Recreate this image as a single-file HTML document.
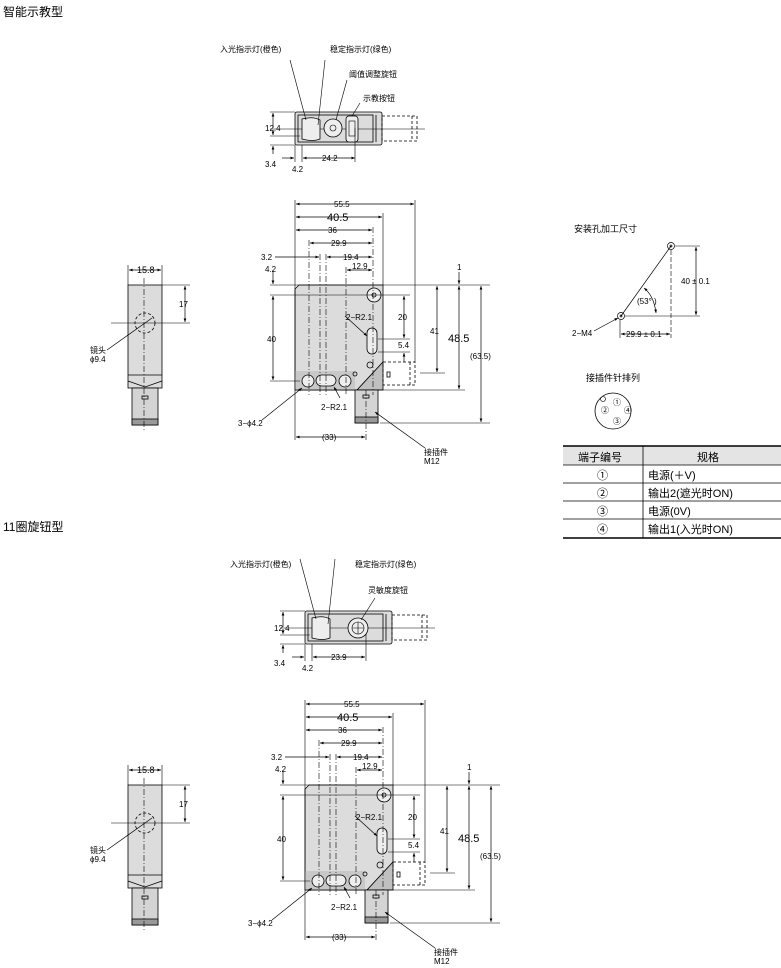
<!DOCTYPE html>
<html><head><meta charset="utf-8"><style>
html,body{margin:0;padding:0;background:#fff}
svg{display:block}
text{font-family:"Liberation Sans","Noto Sans CJK SC",sans-serif;fill:#000}
.s{font-size:8px}.m{font-size:9px}.l{font-size:11px}.t{font-size:12px}
</style></head><body>
<svg width="781" height="968" viewBox="0 0 781 968" xmlns="http://www.w3.org/2000/svg">
<defs>
<marker id="a" markerWidth="6" markerHeight="6" refX="5" refY="3" orient="auto-start-reverse"><path d="M0,1 L5,3 L0,5 Z" fill="#000"/></marker>
<g id="front" stroke="#000" fill="none" stroke-width="0.8">
  <path d="M295,289 L299,285 L383,285 L383,362 L357,390 L295,390 Z" fill="#dcdcdc"/>
  <rect x="295" y="371" width="60" height="19" fill="#c8c8c8" stroke="none"/>
  <path d="M357,390 L383,362 L383,390 Z" fill="#c0c0c0"/>
  <line x1="295" y1="390" x2="383" y2="390"/>
  <circle cx="374" cy="295" r="7" fill="#eee"/><circle cx="374" cy="295" r="2"/>
  <rect x="367" y="328" width="10" height="26" rx="5" fill="#eee"/>
  <circle cx="370" cy="365" r="3"/>
  <circle cx="308" cy="381" r="6" fill="#eee"/>
  <rect x="316" y="375" width="20" height="11" rx="5.5" fill="#eee"/>
  <circle cx="345" cy="381" r="6" fill="#eee"/>
  <circle cx="355" cy="374" r="2"/>
  <rect x="355" y="390" width="23" height="33" fill="#d4d4d4"/>
  <rect x="355" y="417" width="23" height="6" fill="#999"/>
  <rect x="363" y="395" width="6" height="3"/>
  <rect x="383" y="362" width="32" height="23" stroke-dasharray="3,2"/>
  <line x1="410" y1="362" x2="410" y2="385" stroke-dasharray="3,2"/>
  <rect x="387" y="372" width="3" height="5"/>
  <g stroke-dasharray="6,2,1,2" stroke-width="0.6">
    <line x1="309" y1="240" x2="309" y2="395"/>
    <line x1="320" y1="254" x2="320" y2="395"/>
    <line x1="326" y1="254" x2="326" y2="395"/>
    <line x1="346" y1="267" x2="346" y2="395"/>
    <line x1="373" y1="227" x2="373" y2="395"/>
    <line x1="366" y1="390" x2="366" y2="440"/>
  </g>
  <g stroke-width="0.6">
  <line x1="295" y1="200" x2="295" y2="440"/>
  <line x1="383" y1="213" x2="383" y2="285"/>
  <line x1="415" y1="200" x2="415" y2="362"/>
  <line x1="270" y1="285" x2="490" y2="285"/>
  <line x1="270" y1="295" x2="410" y2="295"/>
  <line x1="270" y1="381" x2="300" y2="381"/>
  <line x1="378" y1="339" x2="410" y2="339"/>
  <line x1="378" y1="352" x2="410" y2="352"/>
  <line x1="420" y1="373" x2="445" y2="373"/>
  <line x1="383" y1="390" x2="465" y2="390"/>
  <line x1="380" y1="423" x2="490" y2="423"/>
  </g>
  <g stroke-width="0.7" marker-start="url(#a)" marker-end="url(#a)">
  <line x1="296" y1="204" x2="414" y2="204"/>
  <line x1="296" y1="217" x2="382" y2="217"/>
  <line x1="296" y1="230" x2="372" y2="230"/>
  <line x1="310" y1="243" x2="372" y2="243"/>
  <line x1="327" y1="257" x2="372" y2="257"/>
  <line x1="347" y1="270" x2="372" y2="270"/>
  <line x1="273" y1="296" x2="273" y2="380"/>
  <line x1="404" y1="296" x2="404" y2="338"/>
  <line x1="437" y1="286" x2="437" y2="372"/>
  <line x1="459" y1="286" x2="459" y2="389"/>
  <line x1="481" y1="286" x2="481" y2="422"/>
  <line x1="296" y1="437" x2="365" y2="437"/>
  </g>
  <line x1="275" y1="257" x2="319" y2="257" stroke-width="0.7" marker-end="url(#a)"/>
  <line x1="273" y1="270" x2="273" y2="284" stroke-width="0.7" marker-end="url(#a)"/>
  <line x1="459" y1="272" x2="459" y2="284" stroke-width="0.7" marker-end="url(#a)"/>
  <line x1="404" y1="362" x2="404" y2="353" stroke-width="0.7" marker-end="url(#a)"/>
  <line x1="345" y1="316" x2="367" y2="336" stroke-width="0.7" marker-end="url(#a)"/>
  <line x1="340" y1="398" x2="334" y2="387" stroke-width="0.7" marker-end="url(#a)"/>
  <line x1="262" y1="420" x2="302" y2="388" stroke-width="0.7" marker-end="url(#a)"/>
  <line x1="425" y1="448" x2="375" y2="412" stroke-width="0.7" marker-end="url(#a)"/>
</g>
<g id="side" stroke="#000" fill="none" stroke-width="0.8">
  <rect x="128" y="285" width="34" height="103" fill="#dcdcdc"/>
  <path d="M128,375 L162,375 M128,381 L145,387 L162,381"/>
  <rect x="132" y="388" width="26" height="37" fill="#d4d4d4"/>
  <rect x="132" y="419" width="26" height="6" fill="#999"/>
  <rect x="142" y="396" width="6" height="3"/>
  <circle cx="145" cy="323" r="10" stroke-dasharray="3,2"/>
  <line x1="111" y1="323" x2="190" y2="323" stroke-width="0.6"/>
  <line x1="144" y1="278" x2="144" y2="430" stroke-width="0.6" stroke-dasharray="6,2,1,2"/>
  <line x1="128" y1="265" x2="128" y2="285" stroke-width="0.6"/>
  <line x1="162" y1="265" x2="162" y2="285" stroke-width="0.6"/>
  <line x1="162" y1="285" x2="190" y2="285" stroke-width="0.6"/>
  <line x1="129" y1="270" x2="161" y2="270" stroke-width="0.7" marker-start="url(#a)" marker-end="url(#a)"/>
  <line x1="185" y1="286" x2="185" y2="322" stroke-width="0.7" marker-start="url(#a)" marker-end="url(#a)"/>
  <line x1="107" y1="350" x2="152" y2="318" stroke-width="0.7"/>
</g>
<g id="topv" stroke="#000" fill="none" stroke-width="0.8">
  <rect x="295" y="112" width="87" height="33" rx="2" fill="#dcdcdc"/>
  <rect x="298" y="115" width="75" height="27" fill="none"/>
  <line x1="376" y1="115" x2="376" y2="142"/>
  <rect x="382" y="116" width="35" height="25" stroke-dasharray="3,2"/>
  <line x1="412" y1="116" x2="412" y2="141" stroke-dasharray="3,2"/>
  <line x1="270" y1="129" x2="425" y2="129" stroke-width="0.6"/>
  <path d="M302,119 Q313,116 320,120 L320,139 Q313,142 302,139 Z" fill="#eee"/>
  <line x1="270" y1="112" x2="295" y2="112" stroke-width="0.6"/>
  <line x1="270" y1="136" x2="300" y2="136" stroke-width="0.6"/>
  <line x1="270" y1="145" x2="295" y2="145" stroke-width="0.6"/>
  <line x1="273" y1="113" x2="273" y2="128" stroke-width="0.7" marker-start="url(#a)"/>
  <line x1="273" y1="130" x2="273" y2="135" stroke-width="0.7" marker-end="url(#a)"/>
  <line x1="273" y1="154" x2="273" y2="146" stroke-width="0.7" marker-end="url(#a)"/>
  <line x1="295" y1="145" x2="295" y2="162" stroke-width="0.6"/>
  <line x1="302" y1="145" x2="302" y2="162" stroke-width="0.6"/>
  <line x1="282" y1="158" x2="294" y2="158" stroke-width="0.7" marker-end="url(#a)"/>
  <line x1="303" y1="158" x2="355" y2="158" stroke-width="0.7" marker-start="url(#a)" marker-end="url(#a)"/>
  <line x1="290" y1="60" x2="306" y2="120" stroke-width="0.6"/>
  <line x1="325" y1="60" x2="318" y2="125" stroke-width="0.6"/>
</g>
</defs>

<text x="3" y="16" class="t">智能示教型</text>
<text x="3" y="531" class="t">11圈旋钮型</text>

<use href="#topv"/>
<circle cx="333" cy="128" r="9" fill="#eee" stroke="#000" stroke-width="0.8"/>
<circle cx="333" cy="128" r="3" fill="none" stroke="#000" stroke-width="0.6"/>
<rect x="346" y="116" width="12" height="26" rx="3" fill="#eee" stroke="#000" stroke-width="0.8"/>
<rect x="349" y="121" width="6" height="15" fill="none" stroke="#000" stroke-width="0.6"/>
<line x1="355" y1="162" x2="355" y2="128" stroke="#000" stroke-width="0.6"/>
<line x1="347" y1="80" x2="336" y2="120" stroke="#000" stroke-width="0.6"/>
<line x1="360" y1="103" x2="352" y2="116" stroke="#000" stroke-width="0.6"/>
<text x="220" y="52" class="s">入光指示灯(橙色)</text>
<text x="330" y="52" class="s">稳定指示灯(绿色)</text>
<text x="349" y="77" class="s">阈值调整旋钮</text>
<text x="363" y="101" class="s">示教按钮</text>
<text x="265" y="131" class="s">12.4</text>
<text x="265" y="167" class="s">3.4</text>
<text x="292" y="172" class="s">4.2</text>
<text x="322" y="161" class="s">24.2</text>

<use href="#front"/>
<text x="334" y="207" class="s">55.5</text>
<text x="327" y="221" class="l">40.5</text>
<text x="328" y="233" class="s">36</text>
<text x="331" y="246" class="s">29.9</text>
<text x="261" y="260" class="s">3.2</text>
<text x="343" y="260" class="s">19.4</text>
<text x="352" y="269" class="s">12.9</text>
<text x="265" y="272" class="s">4.2</text>
<text x="457" y="270" class="s">1</text>
<text x="267" y="342" class="s">40</text>
<text x="346" y="320" class="s">2−R2.1</text>
<text x="398" y="320" class="s">20</text>
<text x="398" y="348" class="s">5.4</text>
<text x="430" y="334" class="s">41</text>
<text x="448" y="342" class="l">48.5</text>
<text x="470" y="359" class="s">(63.5)</text>
<text x="321" y="410" class="s">2−R2.1</text>
<text x="238" y="426" class="s">3−ϕ4.2</text>
<text x="322" y="440" class="s">(33)</text>
<text x="424" y="455" class="s">接插件</text>
<text x="424" y="464" class="s">M12</text>

<use href="#side"/>
<text x="137" y="273" class="m">15.8</text>
<text x="179" y="307" class="s">17</text>
<text x="90" y="353" class="s">镜头</text>
<text x="90" y="362" class="s">ϕ9.4</text>

<use href="#topv" transform="translate(10,499)"/>
<circle cx="358" cy="628" r="10" fill="#eee" stroke="#000" stroke-width="0.8"/>
<circle cx="358" cy="628" r="6" fill="none" stroke="#000" stroke-width="0.6"/>
<path d="M352,628 H364 M358,622 V634" stroke="#000" stroke-width="0.6"/>
<line x1="366" y1="661" x2="366" y2="634" stroke="#000" stroke-width="0.6"/>
<line x1="375" y1="598" x2="361" y2="620" stroke="#000" stroke-width="0.6"/>
<text x="230" y="567" class="s">入光指示灯(橙色)</text>
<text x="355" y="567" class="s">稳定指示灯(绿色)</text>
<text x="368" y="593" class="s">灵敏度旋钮</text>
<text x="274" y="631" class="s">12.4</text>
<text x="274" y="666" class="s">3.4</text>
<text x="302" y="671" class="s">4.2</text>
<text x="331" y="660" class="s">23.9</text>

<use href="#front" transform="translate(10,500)"/>
<text x="344" y="707" class="s">55.5</text>
<text x="337" y="721" class="l">40.5</text>
<text x="338" y="733" class="s">36</text>
<text x="341" y="746" class="s">29.9</text>
<text x="271" y="760" class="s">3.2</text>
<text x="353" y="760" class="s">19.4</text>
<text x="362" y="769" class="s">12.9</text>
<text x="275" y="772" class="s">4.2</text>
<text x="467" y="770" class="s">1</text>
<text x="277" y="842" class="s">40</text>
<text x="356" y="820" class="s">2−R2.1</text>
<text x="408" y="820" class="s">20</text>
<text x="408" y="848" class="s">5.4</text>
<text x="440" y="834" class="s">41</text>
<text x="458" y="842" class="l">48.5</text>
<text x="480" y="859" class="s">(63.5)</text>
<text x="331" y="910" class="s">2−R2.1</text>
<text x="248" y="926" class="s">3−ϕ4.2</text>
<text x="332" y="940" class="s">(33)</text>
<text x="434" y="955" class="s">接插件</text>
<text x="434" y="964" class="s">M12</text>

<use href="#side" transform="translate(0,500)"/>
<text x="137" y="773" class="m">15.8</text>
<text x="179" y="807" class="s">17</text>
<text x="90" y="853" class="s">镜头</text>
<text x="90" y="862" class="s">ϕ9.4</text>

<g stroke="#000" fill="none" stroke-width="0.7">
<text x="574" y="232" class="m" stroke="none">安装孔加工尺寸</text>
<circle cx="671" cy="246" r="3.5"/><circle cx="671" cy="246" r="1"/>
<circle cx="621" cy="316" r="3.5"/><circle cx="621" cy="316" r="1"/>
<line x1="671" y1="246" x2="621" y2="316"/>
<line x1="675" y1="246" x2="700" y2="246" stroke-width="0.6"/>
<line x1="625" y1="316" x2="700" y2="316" stroke-width="0.6"/>
<line x1="671" y1="250" x2="671" y2="338" stroke-width="0.6" stroke-dasharray="5,2"/>
<line x1="620" y1="320" x2="620" y2="338" stroke-width="0.6"/>
<line x1="696" y1="247" x2="696" y2="315" marker-start="url(#a)" marker-end="url(#a)"/>
<line x1="621" y1="334" x2="670" y2="334" marker-start="url(#a)" marker-end="url(#a)"/>
<path d="M644,288 Q654,296 656,313" marker-start="url(#a)" marker-end="url(#a)"/>
<line x1="594" y1="331" x2="618" y2="318" marker-end="url(#a)"/>
</g>
<text x="681" y="284" class="s">40 ± 0.1</text>
<text x="637" y="304" class="s">(53°  )</text>
<text x="626" y="337" class="s">29.9 ± 0.1</text>
<text x="572" y="336" class="s">2−M4</text>

<text x="586" y="381" class="m">接插件针排列</text>
<circle cx="613" cy="411" r="18" fill="none" stroke="#000" stroke-width="0.8"/>
<circle cx="603" cy="399" r="2.5" fill="none" stroke="#000" stroke-width="0.6"/>
<text x="613" y="405" class="s">①</text>
<text x="601" y="413" class="s">②</text>
<text x="624" y="413" class="s">④</text>
<text x="613" y="424" class="s">③</text>

<rect x="563" y="446" width="218" height="19" fill="#e4e4e4"/>
<g stroke="#000" stroke-width="0.8">
<line x1="563" y1="446" x2="781" y2="446" stroke-width="1.5"/>
<line x1="563" y1="465" x2="781" y2="465"/>
<line x1="563" y1="483" x2="781" y2="483"/>
<line x1="563" y1="501" x2="781" y2="501"/>
<line x1="563" y1="519" x2="781" y2="519"/>
<line x1="563" y1="538" x2="781" y2="538" stroke-width="1.5"/>
<line x1="643" y1="446" x2="643" y2="538"/>
</g>
<text x="578" y="461" class="l">端子编号</text>
<text x="697" y="461" class="l">规格</text>
<text x="597" y="479" class="l">①</text>
<text x="597" y="497" class="l">②</text>
<text x="597" y="515" class="l">③</text>
<text x="597" y="533" class="l">④</text>
<text x="648" y="479" class="l">电源(＋V)</text>
<text x="648" y="497" class="l">输出2(遮光时ON)</text>
<text x="648" y="515" class="l">电源(0V)</text>
<text x="648" y="533" class="l">输出1(入光时ON)</text>
</svg>
</body></html>
